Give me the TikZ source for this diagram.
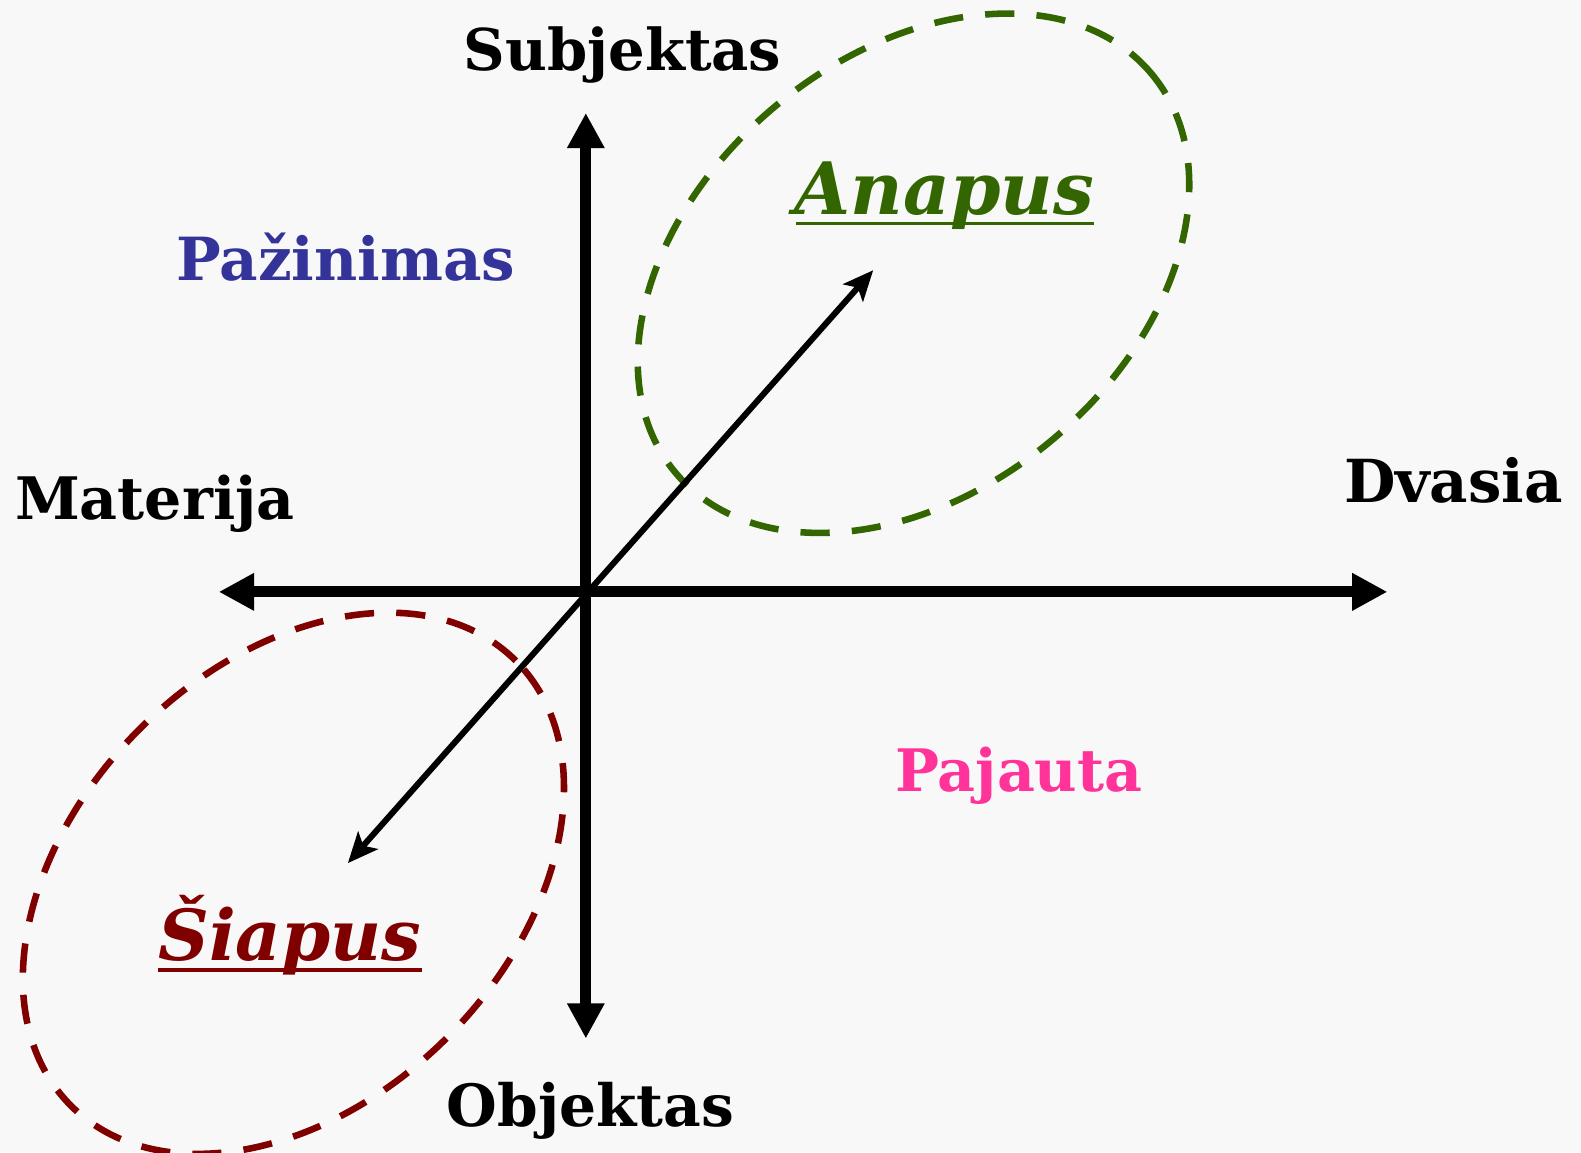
\documentclass[tikz,border=0pt]{standalone}
\usepackage{fontspec}
\setmainfont{DejaVu Serif}
\usepackage{graphicx}
\usetikzlibrary{arrows.meta}
\definecolor{bgc}{RGB}{248,248,248}
\definecolor{anapc}{RGB}{51,102,0}
\definecolor{siapc}{RGB}{128,0,0}
\definecolor{pazc}{RGB}{51,51,153}
\definecolor{pajc}{RGB}{255,51,153}
\begin{document}
\begin{tikzpicture}[x=1pt,y=1pt,
  lbl/.style={inner sep=0pt, anchor=base, font=\bfseries\fontsize{60}{70}\selectfont},
  axis/.style={line width=11pt, -{Triangle[length=35pt,width=35pt]}},
  diag/.style={line width=6pt, {Stealth[length=30pt,width=26pt,inset=7pt]}-{Stealth[length=30pt,width=26pt,inset=7pt]}},
  zone/.style={line width=6.5pt, dash pattern=on 29pt off 22pt}
]
\fill[bgc] (0,0) rectangle (1568,-1143);
\useasboundingbox (0,0) rectangle (1568,-1143);

\coordinate (O) at (581,-587);
\coordinate (N) at (581,-112);
\coordinate (S) at (581,-1030);
\coordinate (E) at (1376,-587);
\coordinate (W) at (217,-587);
\coordinate (NE) at (866,-268);
\coordinate (SW) at (345,-856);

% zones
\draw[zone, anapc] (906,-271) ellipse [x radius=308, y radius=215, rotate=40];
\draw[zone, siapc] (291,-876) ellipse [x radius=312, y radius=216, rotate=45];

% axes
\draw[axis] (O) -- (N);
\draw[axis] (O) -- (S);
\draw[axis] (O) -- (E);
\draw[axis] (O) -- (W);
\draw[diag] (SW) -- (NE);

% labels
\node[lbl] (subj) at (617.5,-70) {\resizebox{315pt}{!}{Subjektas}};
\node[lbl] (obj) at (585.5,-1117) {\resizebox{285pt}{!}{Objektas}};
\node[lbl] (mat) at (153.5,-515) {\resizebox{277pt}{!}{Materija}};
\node[lbl] (dv) at (1441.5,-498) {\resizebox{217pt}{!}{Dvasia}};
\node[lbl, text=pazc] (paz) at (343,-278) {\resizebox{336pt}{!}{Pažinimas}};
\node[lbl, text=pajc] (paj) at (1010.5,-785) {\resizebox{245pt}{!}{Pajauta}};
\node[lbl, text=anapc] (anap) at (936.5,-213) {\resizebox{297pt}{!}{\itshape Anapus}};
\node[lbl, text=siapc] (siap) at (287.5,-953) {\resizebox{261pt}{!}{\itshape Šiapus}};
\draw[anapc, line width=3pt] (anap.base west) ++(2,-9) coordinate (au1) -- (anap.base east |- au1);
\draw[siapc, line width=3pt] (siap.base west) ++(0,-9) coordinate (su1) -- (siap.base east |- su1);
\end{tikzpicture}
\end{document}
